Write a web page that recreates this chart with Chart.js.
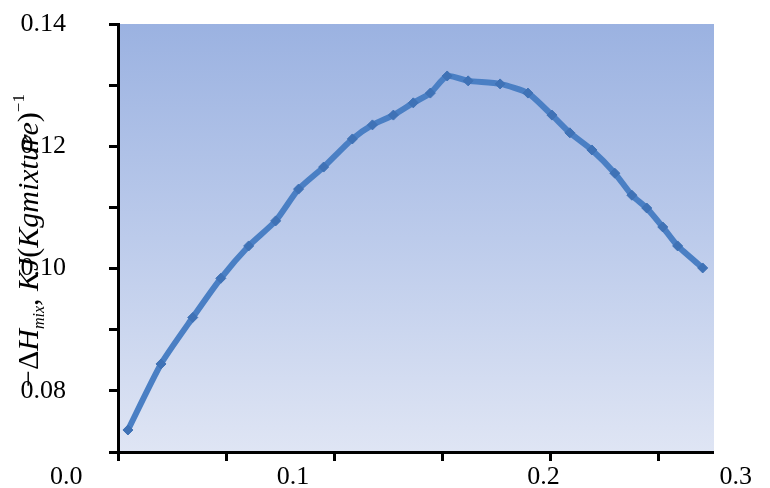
<!DOCTYPE html>
<html>
<head>
<meta charset="utf-8">
<script src="https://cdn.jsdelivr.net/npm/chart.js@4"></script>
<style>
  html, body { margin: 0; padding: 0; background: #fff; }
  #wrap { width: 770px; height: 488px; }
</style>
</head>
<body>
<div id="wrap"><canvas id="mixChart" width="770" height="488"></canvas></div>
<script>
// values
const xValues = [0.0046, 0.0199, 0.0346, 0.0476, 0.0605, 0.0730, 0.0836, 0.0952, 0.1085, 0.1178,
  0.1275, 0.1367, 0.1446, 0.1524, 0.1621, 0.1769, 0.1898, 0.2009, 0.2092, 0.2194,
  0.2300, 0.2379, 0.2448, 0.2522, 0.2591, 0.2707];
const yValues = [0.0736, 0.0844, 0.0920, 0.0984, 0.1037, 0.1078, 0.1130, 0.1166, 0.1212, 0.1235,
  0.1251, 0.1271, 0.1287, 0.1315, 0.1307, 0.1302, 0.1287, 0.1251, 0.1222, 0.1194,
  0.1156, 0.1120, 0.1099, 0.1068, 0.1037, 0.1001];

// tick labels (the x labels sit off their ticks in the original)
const yTickLabels = ["0.08", "0.10", "0.12", "0.14"];
const xTickLabels = ["0.0", "0.1", "0.2", "0.3"];
const xTickLabelAt = [-0.024, 0.081, 0.197, 0.286];

const serif = "'Liberation Serif', 'Times New Roman', serif";

// gradient behind the plot
const plotBg = {
  id: "plotBg",
  beforeDraw(chart) {
    const { ctx, chartArea: a } = chart;
    const g = ctx.createLinearGradient(0, a.top, 0, a.bottom);
    g.addColorStop(0, "#9bb2e1");
    g.addColorStop(0.5, "#bccbeb");
    g.addColorStop(1, "#dfe5f4");
    ctx.save();
    ctx.fillStyle = g;
    ctx.fillRect(a.left, a.top, a.right - a.left + 2, a.bottom - a.top);
    ctx.restore();
  },
};

// x labels + rotated y title with sub/superscripts
const extraText = {
  id: "extraText",
  afterDraw(chart) {
    const { ctx } = chart;
    const xs = chart.scales.x;
    ctx.save();
    ctx.fillStyle = "#000";
    ctx.font = "26px " + serif;
    ctx.textAlign = "center";
    ctx.textBaseline = "middle";
    xTickLabels.forEach((t, i) => {
      ctx.fillText(t, xs.getPixelForValue(xTickLabelAt[i]), 477);
    });

    // y title, reads bottom to top
    ctx.translate(38, 387);
    ctx.rotate(-Math.PI / 2);
    ctx.textAlign = "left";
    ctx.textBaseline = "alphabetic";
    const parts = [
      { t: "\u2212\u0394", f: "30px " + serif, dy: 0 },
      { t: "H", f: "italic 30px " + serif, dy: 0 },
      { t: "mix", f: "italic 16px " + serif, dy: 6 },
      { t: ", ", f: "30px " + serif, dy: 0 },
      { t: "KJ", f: "italic 30px " + serif, dy: 0 },
      { t: "(", f: "30px " + serif, dy: 0 },
      { t: "Kgmixture", f: "italic 30px " + serif, dy: 0 },
      { t: ")", f: "30px " + serif, dy: 0 },
      { t: "\u22121", f: "17px " + serif, dy: -14 },
    ];
    let x = 0;
    parts.forEach((p) => {
      ctx.font = p.f;
      ctx.fillText(p.t, x, p.dy);
      x += ctx.measureText(p.t).width;
    });
    ctx.restore();
  },
};

new Chart(document.getElementById("mixChart"), {
  type: "line",
  data: {
    datasets: [
      {
        data: xValues.map((x, i) => ({ x: x, y: yValues[i] })),
        borderColor: "#4a7fc4",
        backgroundColor: "#3f72b6",
        borderWidth: 6,
        pointStyle: "rectRot",
        pointRadius: 5,
        pointBorderWidth: 1,
        pointBorderColor: "#3f72b6",
        tension: 0.2,
      },
    ],
  },
  options: {
    responsive: false,
    animation: false,
    layout: { autoPadding: false, padding: { top: 24, right: 58, left: 0, bottom: 0 } },
    plugins: { legend: { display: false }, tooltip: { enabled: false } },
    scales: {
      x: {
        type: "linear",
        min: 0,
        max: 0.275,
        afterBuildTicks: (s) => {
          s.ticks = s.ticks.filter((t) => Math.abs(t.value * 20 - Math.round(t.value * 20)) < 1e-6);
        },
        afterFit: (s) => {
          s.height = 36;
          s.paddingLeft = 0;
          s.paddingRight = 0;
        },
        ticks: { stepSize: 0.05, callback: () => "" },
        grid: { drawOnChartArea: false, tickLength: 9, color: "#000", lineWidth: 3 },
        border: { color: "#000", width: 3 },
      },
      y: {
        min: 0.07,
        max: 0.14,
        afterFit: (s) => {
          s.width = 118;
          s.paddingTop = 0;
          s.paddingBottom = 0;
        },
        ticks: {
          stepSize: 0.01,
          padding: 43,
          color: "#000",
          font: { family: serif, size: 26 },
          callback: (v) => {
            const s = v.toFixed(2);
            return yTickLabels.includes(s) ? s : "";
          },
        },
        grid: { drawOnChartArea: false, tickLength: 9, color: "#000", lineWidth: 3 },
        border: { color: "#000", width: 3 },
      },
    },
  },
  plugins: [plotBg, extraText],
});
</script>
</body>
</html>
